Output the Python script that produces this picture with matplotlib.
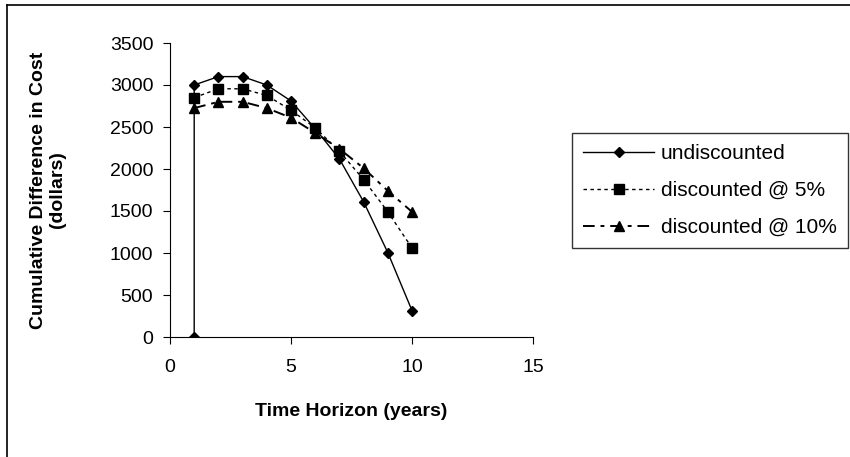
import matplotlib
matplotlib.use("Agg")
import matplotlib.pyplot as plt
from matplotlib.lines import Line2D

plt.rcParams['font.family'] = ['Liberation Sans', 'DejaVu Sans']

years_undisc = [1, 1, 2, 3, 4, 5, 6, 7, 8, 9, 10]
undiscounted = [0, 3000, 3100, 3100, 3000, 2810, 2480, 2120, 1610, 1005, 315]
years = [1, 2, 3, 4, 5, 6, 7, 8, 9, 10]
disc5 = [2850, 2955, 2955, 2875, 2700, 2490, 2210, 1875, 1490, 1060]
disc10 = [2725, 2800, 2800, 2725, 2610, 2430, 2240, 2010, 1740, 1490]
labels = ["undiscounted", "discounted @ 5%", "discounted @ 10%"]

W, H = 850, 457
fig = plt.figure(figsize=(8.5, 4.57), dpi=100)
# outer border (top and left visible; right/bottom fall off the image)
fig.add_artist(Line2D([7/W, 7/W], [0, 1-5/H], transform=fig.transFigure, color='black', lw=1.2))
fig.add_artist(Line2D([7/W, 1], [1-5/H, 1-5/H], transform=fig.transFigure, color='black', lw=1.2))

ax = fig.add_axes([170/W, 1-337/H, (533-170)/W, (337-43)/H])

ax.plot(years_undisc, undiscounted, color='black', lw=1.0, ls='-', marker='D', ms=5.5, label=labels[0])
ax.plot(years, disc5, color='black', lw=1.0, ls=(0, (2.5, 2.5)), marker='s', ms=7, label=labels[1])
ax.plot(years, disc10, color='black', lw=1.4, ls=(0, (6, 3, 2, 3)), marker='^', ms=7.5, label=labels[2])

ax.set_xlim(0, 15)
ax.set_ylim(0, 3500)
ax.set_xticks([0, 5, 10, 15])
ax.set_yticks(range(0, 3501, 500))
ax.spines['top'].set_visible(False)
ax.spines['right'].set_visible(False)
ax.tick_params(direction='out', length=5, labelsize=14)
ax.tick_params(axis='x', pad=11)
ax.tick_params(axis='y', pad=7)
ax.set_xlabel("Time Horizon (years)", fontsize=14, fontweight='bold')
ax.xaxis.set_label_coords(0.5, -(412 - 337) / (337 - 43), transform=ax.transAxes)
ax.xaxis.label.set_va('center')
ax.set_ylabel("Cumulative Difference in Cost\n(dollars)", fontsize=14, fontweight='bold')
ax.yaxis.set_label_coords(-(170 - 48) / (533 - 170), 0.5)
ax.yaxis.label.set_va('center')

leg = fig.legend(loc='upper left', bbox_to_anchor=(572/W, 1-133/H), fontsize=15,
                 frameon=True, fancybox=False, edgecolor='black', handlelength=3.4,
                 labelspacing=0.85, borderpad=0.55, handletextpad=0.3, borderaxespad=0)
leg.get_frame().set_linewidth(1.0)

fig.savefig("out.png", dpi=100)
